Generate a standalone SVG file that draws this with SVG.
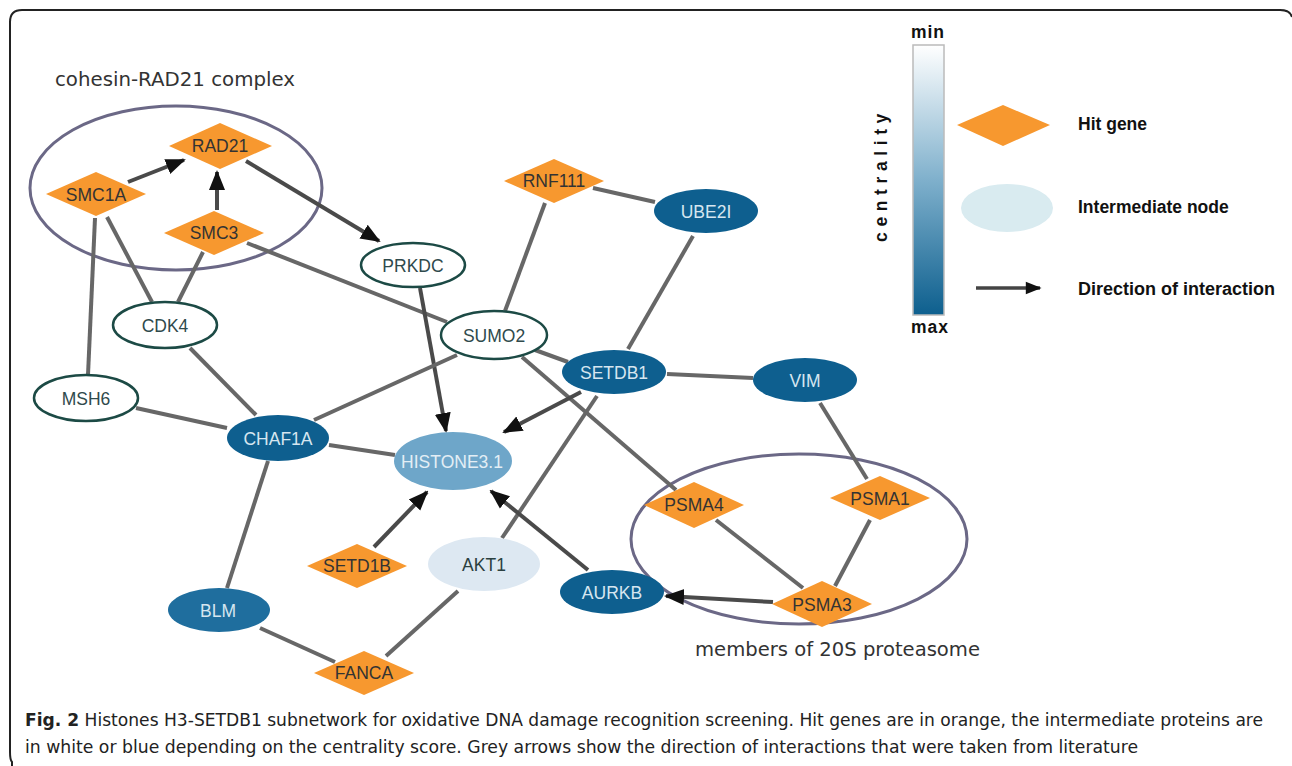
<svg xmlns="http://www.w3.org/2000/svg" width="1292" height="766" viewBox="0 0 1292 766">
<defs>
<linearGradient id="cg" x1="0" y1="0" x2="0" y2="1">
<stop offset="0" stop-color="#ffffff"/>
<stop offset="0.5" stop-color="#7fb0cc"/>
<stop offset="1" stop-color="#0d5f8e"/>
</linearGradient>
<marker id="ah" viewBox="0 0 10 10" refX="9" refY="5" markerWidth="5" markerHeight="5" orient="auto" markerUnits="strokeWidth">
<path d="M0,1 L10,5 L0,9 Z" fill="#111"/>
</marker>
<marker id="ahl" viewBox="0 0 10 10" refX="9" refY="5" markerWidth="5" markerHeight="4.5" orient="auto" markerUnits="strokeWidth">
<path d="M0,1 L10,5 L0,9 Z" fill="#111"/>
</marker>
</defs>
<style>
.e{stroke:#676767;stroke-width:4;fill:none}
.a{stroke:#4a4a4a;stroke-width:4;fill:none;marker-end:url(#ah)}
.hit{fill:#f7982f}
.wn{fill:#ffffff;stroke:#1c4a45;stroke-width:2.5}
.bn{fill:#0e5f8f}
.t{font-family:"Liberation Sans",Arial,sans-serif;font-size:17.5px;text-anchor:middle;dominant-baseline:central}
.td{fill:#333333}
.tw{fill:#2f4a4c}
.tb{fill:#d6e6f0}
.cl{fill:none;stroke:#6b6886;stroke-width:3}
.lab{font-family:"DejaVu Sans",sans-serif;font-size:19.5px;fill:#333}
.leg{font-family:"Liberation Sans",Arial,sans-serif;font-size:17.5px;font-weight:bold;fill:#111}
.cap{font-family:"DejaVu Sans Condensed","Liberation Sans",sans-serif;font-size:17px;fill:#222}
</style>
<rect x="0" y="0" width="1292" height="766" fill="#ffffff"/>
<path d="M12,766 L12,762 Q10,760 10,752 L10,22 Q10,10 22,10 L1280,10 Q1290,10 1292,17" fill="none" stroke="#222" stroke-width="2"/>

<g id="clusters">
<ellipse class="cl" cx="176" cy="188" rx="146" ry="82"/>
<ellipse class="cl" cx="799" cy="539" rx="168" ry="85"/>
<text class="lab" x="55" y="86" textLength="240" lengthAdjust="spacingAndGlyphs">cohesin-RAD21 complex</text>
<text class="lab" x="695" y="656" textLength="285" lengthAdjust="spacingAndGlyphs">members of 20S proteasome</text>
</g>

<g id="connectors">
<line class="a" x1="128" y1="182" x2="184" y2="160"/>
<line class="a" x1="217" y1="210" x2="217" y2="172"/>
<line class="a" x1="246" y1="161" x2="379" y2="241"/>
<line class="e" x1="95" y1="218" x2="88" y2="375"/>
<line class="e" x1="107" y1="217" x2="152" y2="302"/>
<line class="e" x1="203" y1="252" x2="178" y2="302"/>
<line class="e" x1="247" y1="243" x2="447" y2="322"/>
<line class="a" x1="420" y1="288" x2="446" y2="431"/>
<line class="e" x1="545" y1="203" x2="505" y2="311"/>
<line class="e" x1="593" y1="188" x2="655" y2="202"/>
<line class="e" x1="693" y1="236" x2="628" y2="349"/>
<line class="e" x1="597" y1="396" x2="502" y2="538"/>
<line class="e" x1="535" y1="350" x2="568" y2="362"/>
<line class="e" x1="457" y1="355" x2="314" y2="420"/>
<line class="e" x1="522" y1="357" x2="676" y2="490"/>
<line class="a" x1="581" y1="392" x2="504" y2="432"/>
<line class="e" x1="667" y1="374" x2="753" y2="378"/>
<line class="e" x1="820" y1="403" x2="867" y2="479"/>
<line class="e" x1="190" y1="348" x2="256" y2="415"/>
<line class="e" x1="136" y1="408" x2="227" y2="428"/>
<line class="e" x1="329" y1="445" x2="395" y2="455"/>
<line class="e" x1="268" y1="461" x2="227" y2="588"/>
<line class="a" x1="374" y1="547" x2="427" y2="492"/>
<line class="a" x1="588" y1="570" x2="491" y2="491"/>
<line class="e" x1="716" y1="520" x2="803" y2="588"/>
<line class="e" x1="870" y1="520" x2="835" y2="586"/>
<line class="a" x1="773" y1="602" x2="666" y2="596"/>
<line class="e" x1="260" y1="628" x2="335" y2="662"/>
<line class="e" x1="458" y1="591" x2="386" y2="656"/>
</g>

<g id="RAD21"><polygon class="hit" points="169,146 220,123 272,146 220,169"/><text class="t td" x="220" y="146">RAD21</text></g>
<g id="SMC1A"><polygon class="hit" points="46,194 96,172 146,194 96,216"/><text class="t td" x="96" y="195">SMC1A</text></g>
<g id="SMC3"><polygon class="hit" points="164,233 214,211 264,233 214,255"/><text class="t td" x="214" y="233">SMC3</text></g>
<g id="RNF111"><polygon class="hit" points="504,181 554,159 604,181 554,203"/><text class="t td" x="554" y="181">RNF111</text></g>
<g id="UBE2I"><ellipse class="bn" cx="706" cy="211" rx="52" ry="22"/><text class="t tb" x="706" y="212">UBE2I</text></g>
<g id="PRKDC"><ellipse class="wn" cx="413" cy="265" rx="52" ry="22"/><text class="t tw" x="413" y="266">PRKDC</text></g>
<g id="CDK4"><ellipse class="wn" cx="165" cy="325" rx="52" ry="23"/><text class="t tw" x="165" y="326">CDK4</text></g>
<g id="SUMO2"><ellipse class="wn" cx="494" cy="335" rx="53" ry="24"/><text class="t tw" x="494" y="336">SUMO2</text></g>
<g id="SETDB1"><ellipse class="bn" cx="614" cy="372" rx="52" ry="22"/><text class="t tb" x="614" y="373">SETDB1</text></g>
<g id="VIM"><ellipse class="bn" cx="805" cy="380" rx="52" ry="22"/><text class="t tb" x="805" y="381">VIM</text></g>
<g id="MSH6"><ellipse class="wn" cx="86" cy="398" rx="52" ry="23"/><text class="t tw" x="86" y="399">MSH6</text></g>
<g id="CHAF1A"><ellipse class="bn" cx="278" cy="438" rx="51" ry="23"/><text class="t tb" x="278" y="439">CHAF1A</text></g>
<g id="HISTONE3.1"><ellipse fill="#6ea6c9" cx="453" cy="461" rx="59" ry="29"/><text class="t" fill="#e3eef5" x="452" y="462">HISTONE3.1</text></g>
<g id="PSMA4"><polygon class="hit" points="644,505 694,482 744,505 694,528"/><text class="t td" x="694" y="505">PSMA4</text></g>
<g id="PSMA1"><polygon class="hit" points="830,498 880,476 930,498 880,520"/><text class="t td" x="880" y="499">PSMA1</text></g>
<g id="SETD1B"><polygon class="hit" points="307,566 357,544 407,566 357,588"/><text class="t td" x="357" y="566">SETD1B</text></g>
<g id="AKT1"><ellipse fill="#dde8f2" cx="484" cy="564" rx="56" ry="27"/><text class="t" fill="#2b4040" x="484" y="565">AKT1</text></g>
<g id="AURKB"><ellipse class="bn" cx="612" cy="592" rx="52" ry="22"/><text class="t tb" x="612" y="593">AURKB</text></g>
<g id="PSMA3"><polygon class="hit" points="772,604 822,581 872,604 822,627"/><text class="t td" x="822" y="605">PSMA3</text></g>
<g id="BLM"><ellipse fill="#1f6e9e" cx="219" cy="610" rx="51" ry="22"/><text class="t tb" x="218" y="611">BLM</text></g>
<g id="FANCA"><polygon class="hit" points="314,673 364,651 414,673 364,695"/><text class="t td" x="364" y="673">FANCA</text></g>

<g id="legend">
<rect x="913" y="45" width="31" height="270" fill="url(#cg)" stroke="#bbbbbb" stroke-width="1.5"/>
<text class="leg" x="928" y="38" text-anchor="middle" font-size="14" letter-spacing="1">min</text>
<text class="leg" x="930" y="333" text-anchor="middle" font-size="14" letter-spacing="1">max</text>
<text class="leg" x="0" y="0" font-size="14" font-weight="normal" letter-spacing="5.6" text-anchor="middle" transform="translate(887,175) rotate(-90)">centrality</text>
<polygon class="hit" points="957,125 1003,105 1050,125 1003,146"/>
<ellipse fill="#d9ebf0" cx="1007" cy="208" rx="46" ry="24"/>
<line x1="976" y1="288" x2="1040" y2="288" stroke="#444" stroke-width="3.5" marker-end="url(#ahl)"/>
<text class="leg" x="1078" y="130">Hit gene</text>
<text class="leg" x="1078" y="213">Intermediate node</text>
<text class="leg" x="1078" y="295" textLength="197" lengthAdjust="spacingAndGlyphs">Direction of interaction</text>
</g>

<g id="caption">
<text class="cap" x="25" y="726" textLength="1238" lengthAdjust="spacingAndGlyphs"><tspan font-weight="bold">Fig. 2</tspan> Histones H3-SETDB1 subnetwork for oxidative DNA damage recognition screening. Hit genes are in orange, the intermediate proteins are</text>
<text class="cap" x="25" y="753" textLength="1113" lengthAdjust="spacingAndGlyphs">in white or blue depending on the centrality score. Grey arrows show the direction of interactions that were taken from literature</text>
</g>
</svg>
